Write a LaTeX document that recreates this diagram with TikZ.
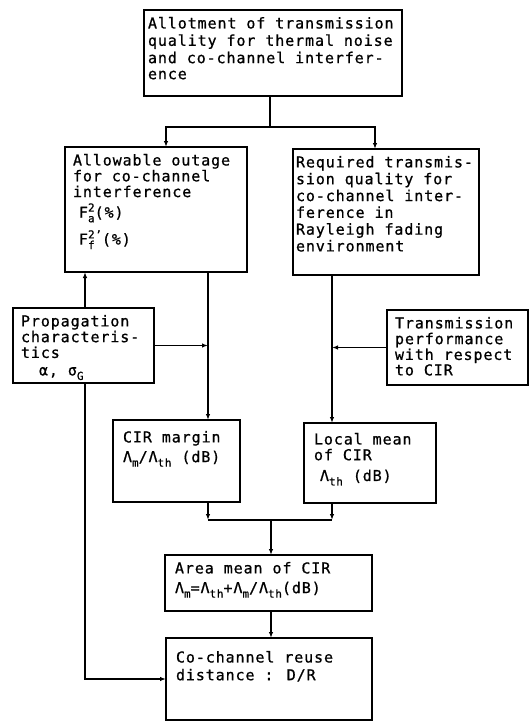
\documentclass[tikz,border=0pt]{standalone}
\usepackage{fontspec}
\setmainfont[LetterSpace=6,FakeBold=0.8]{DejaVu Sans Mono}
\usetikzlibrary{arrows.meta}
\newcommand\lo[1]{\raisebox{-0.55ex}{\fontsize{11}{11}\selectfont #1}}
\newcommand\hi[1]{\raisebox{0.75ex}{\fontsize{11}{11}\selectfont #1}}
\newcommand\Fsq[2]{F\rlap{\lo{#2}}\hi{#1}}
\newcommand\boxtext[3]{\parbox[t][#2][t]{#1}{\begin{tabular}[t]{@{}l@{}}#3\end{tabular}}}
\begin{document}
\begin{tikzpicture}[x=1pt, y=-1pt, line width=1.5pt, font=\fontsize{15}{14.5}\selectfont,
    blk/.style={draw, anchor=north west, inner xsep=8pt, inner ysep=7pt, outer sep=0pt},
    arr/.style={-{Latex[length=6pt,width=4.5pt]}}]
  \useasboundingbox (0,0) rectangle (531,721);
  \node[blk, inner xsep=4pt] (top) at (144,10) {\boxtext{250pt}{72pt}{Allotment of transmission\\[1.5pt]quality for thermal noise\\[1.5pt]and co-channel interfer-\\[1.5pt]ence}};
  \node[blk] (allow) at (65,147) {\boxtext{166pt}{111pt}{Allowable outage\\for co-channel\\interference\\[2pt]\hspace{6pt}\Fsq{2}{a}(\%)\\[8pt]\hspace{6pt}\Fsq{2'}{f}(\%)}};
  \node[blk, inner xsep=3pt] (req) at (293,149) {\boxtext{180pt}{112pt}{Required transmis-\\[1pt]sion quality for\\[1pt]co-channel inter-\\[1pt]ference in\\[1pt]Rayleigh fading\\[1pt]environment}};
  \node[blk] (prop) at (13,308) {\boxtext{125pt}{61pt}{Propagation\\characteris-\\tics\\[3pt]\hspace{18pt}α, σ\lo{G}}};
  \node[blk, inner xsep=8pt] (trans) at (387,310) {\boxtext{125pt}{61pt}{Transmission\\performance\\with respect\\to CIR}};
  \node[blk, inner xsep=10pt, inner ysep=11pt] (margin) at (113,420) {\boxtext{107pt}{60pt}{CIR margin\\[4pt]Λ\lo{m}/Λ\lo{th} (dB)}};
  \node[blk, inner xsep=10pt, inner ysep=10pt] (local) at (304,423) {\boxtext{112pt}{60pt}{Local mean\\of CIR\\[5pt]\hspace{6pt}Λ\lo{th} (dB)}};
  \node[blk, inner xsep=10pt] (area) at (165,555) {\boxtext{187pt}{42pt}{Area mean of CIR\\[4pt]Λ\lo{m}=Λ\lo{th}+Λ\lo{m}/Λ\lo{th}(dB)}};
  \node[blk, inner xsep=10pt, inner ysep=13pt] (reuse) at (166,638) {\boxtext{186pt}{56pt}{Co-channel reuse\\[2pt]distance : D/R}};
  % channels
  \coordinate (split) at (270,127);
  \coordinate (ax) at (166,0);
  \coordinate (rx) at (375,0);
  \coordinate (px) at (85,0);
  \coordinate (mx) at (208,0);
  \coordinate (lx) at (332,0);
  \coordinate (join) at (271,520);
  \draw (top.south -| split) -- (split);
  \draw[arr] (split) -| (allow.north -| ax);
  \draw[arr] (split) -| (req.north -| rx);
  \draw[arr] (prop.north -| px) -- (allow.south -| px);
  \draw[arr] (allow.south -| mx) -- (margin.north -| mx);
  \draw[arr] (prop.east) -- (prop.east -| mx);
  \draw[arr] (req.south -| lx) -- (local.north -| lx);
  \draw[arr] (trans.west) -- (trans.west -| lx);
  \draw[arr] (margin.south -| mx) -- (mx |- join);
  \draw[arr] (local.south -| lx) -- (lx |- join);
  \draw (mx |- join) -- (lx |- join);
  \draw[arr] (join) -- (area.north -| join);
  \draw[arr] (area.south -| join) -- (reuse.north -| join);
  \draw[arr] (prop.south -| px) |- (reuse.west);
\end{tikzpicture}
\end{document}
